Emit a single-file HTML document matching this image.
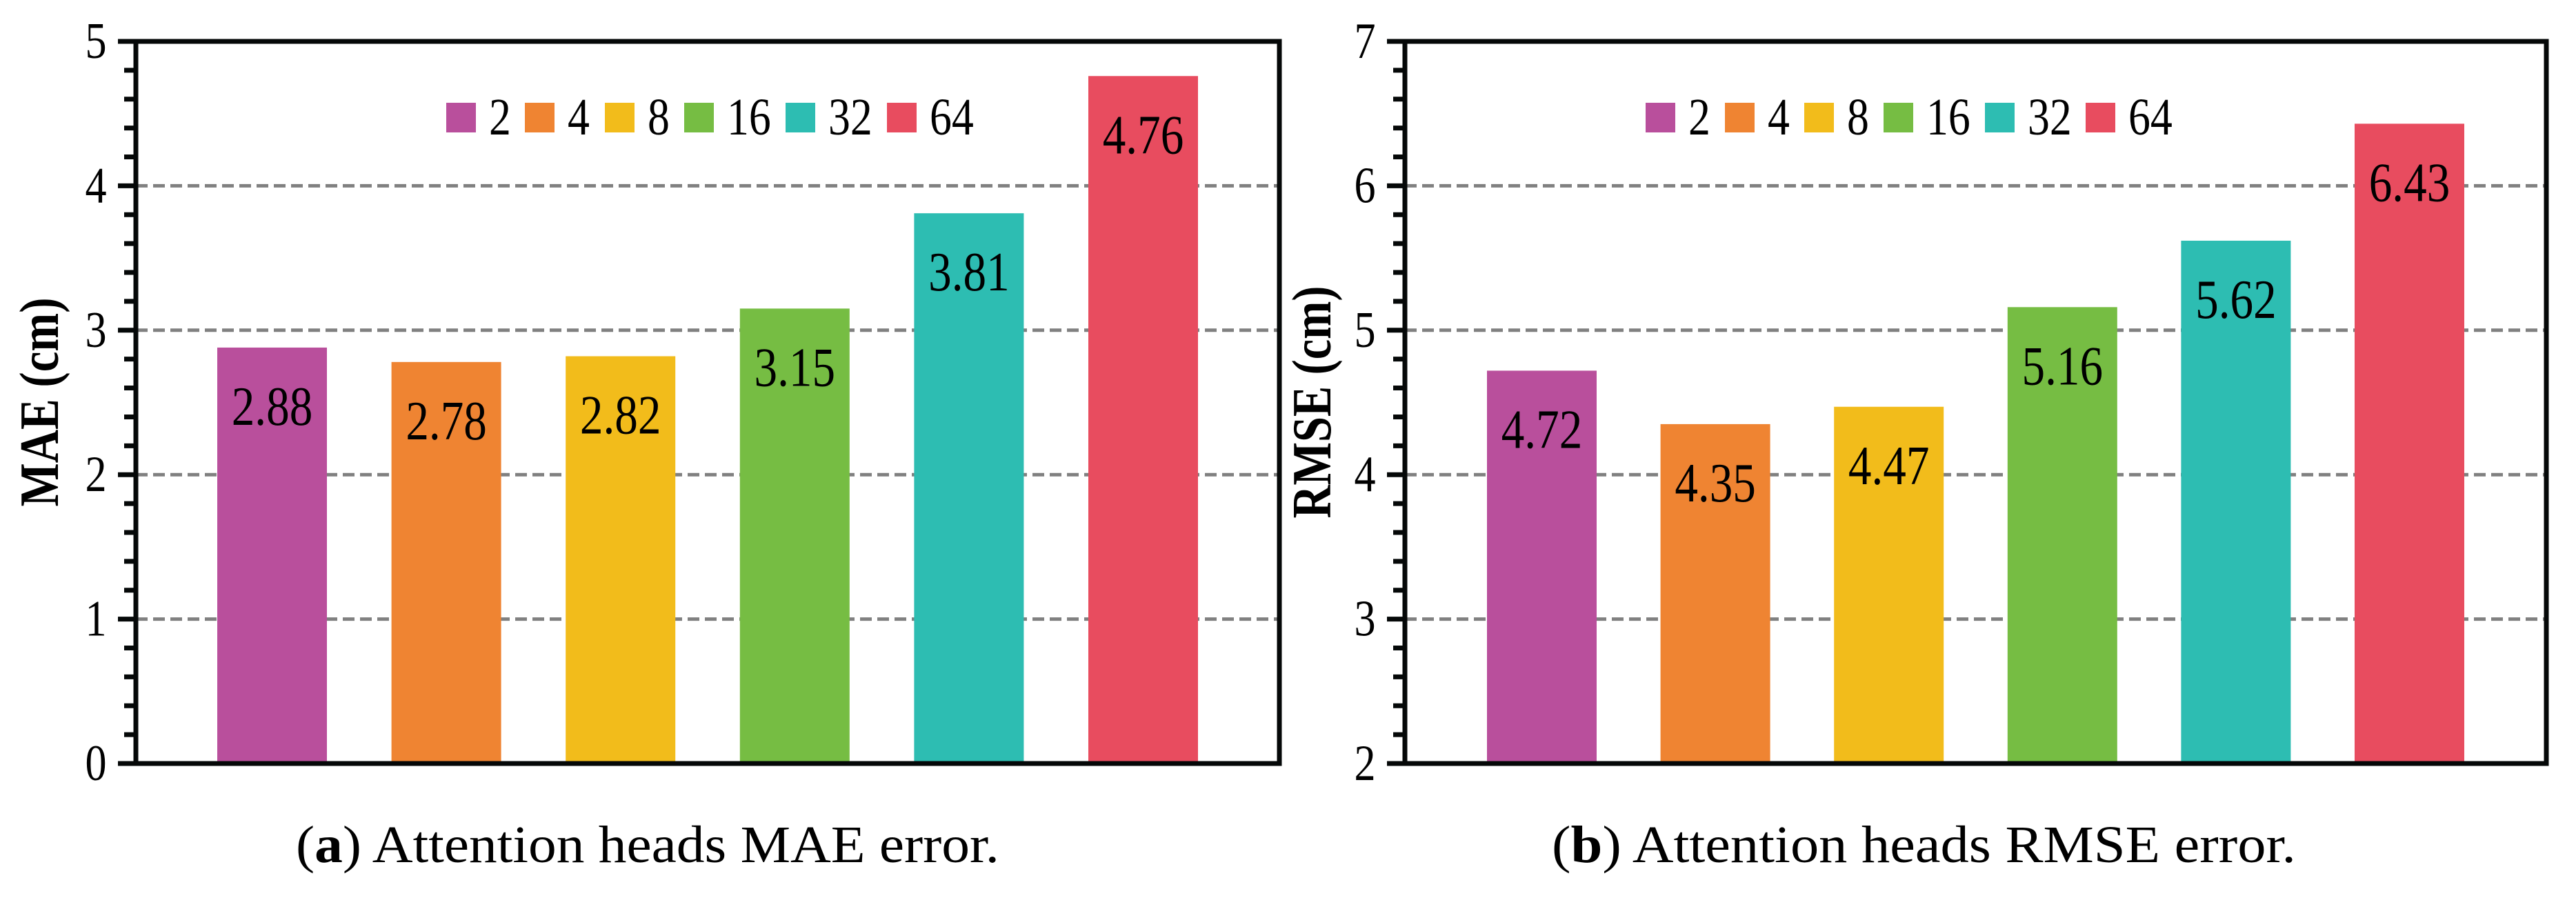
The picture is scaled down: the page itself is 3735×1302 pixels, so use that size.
<!DOCTYPE html>
<html><head><meta charset="utf-8"><style>
html,body{margin:0;padding:0;background:#fff}
svg{display:block}
text{font-family:"Liberation Serif",serif;fill:#000}
</style></head><body>
<svg id="fig" width="3735" height="1302" viewBox="0 0 3735 1302"></svg>
<script>
const categories = ["2","4","8","16","32","64"];
const maeValues = [2.88,2.78,2.82,3.15,3.81,4.76];
const rmseValues = [4.72,4.35,4.47,5.16,5.62,6.43];
const maeTicks = [0,1,2,3,4,5];
const rmseTicks = [2,3,4,5,6,7];
const colors = ["#b94f9c","#ef8432","#f2bc1b","#76bd43","#2dbdb2","#e84c5f"];

const NS = "http://www.w3.org/2000/svg";
const svg = document.getElementById('fig');
function mk(tag, attrs, parent){
  const e = document.createElementNS(NS, tag);
  for (const k in attrs) e.setAttribute(k, attrs[k]);
  (parent||svg).appendChild(e);
  return e;
}
const SX = 0.84;

function drawChart(cfg){
  const g = mk('g', {});
  
  
  const L = cfg.left, R = cfg.right, T = 60, B = 1107;
  const ymin = cfg.ticks[0], ymax = cfg.ticks[cfg.ticks.length-1];
  const y = v => B - (v - ymin) / (ymax - ymin) * (B - T);
  const mid = (L + R) / 2, step = cfg.step, bw = 159;
  const x = i => mid + (i - (categories.length - 1) / 2) * step;

  cfg.ticks.forEach((t, k) => {
    if (k === 0 || k === cfg.ticks.length - 1) return;
    const ln = mk('line', {x1: L, x2: R, y1: y(t), y2: y(t), stroke: '#808080', 'stroke-width': 5, 'stroke-dasharray': '17 8'}, g);
    
    
  });
  cfg.values.forEach((v, i) => {
    const r = mk('rect', {x: x(i) - bw/2, y: y(v), width: bw, height: B - y(v), fill: colors[i]}, g);
    
    
    const t = mk('text', {x: 0, y: 0, 'font-size': 80, 'text-anchor': 'middle', transform: `translate(${x(i)},${y(v) + 112}) scale(${SX},1)`}, g);
    t.textContent = v.toFixed(2);
    
    
  });
  const fr = mk('rect', {x: L, y: T, width: R - L, height: B - T, fill: 'none', stroke: '#050808', 'stroke-width': 7}, g);
  
  
  for (let v = ymin; v <= ymax + 1e-9; v += 0.2) {
    const vv = Math.round(v * 10) / 10;
    const major = Math.abs(vv - Math.round(vv)) < 1e-6;
    const tk = mk('line', {x1: major ? L - 26 : L - 17, x2: L, y1: y(vv), y2: y(vv), stroke: '#050808', 'stroke-width': 7}, g);
    
    
  }
  cfg.ticks.forEach(t => {
    const lb = mk('text', {x: 0, y: 0, 'font-size': 74, 'text-anchor': 'middle', transform: `translate(${L - 58},${y(t) + 24}) scale(${SX},1)`}, g);
    lb.textContent = String(t);
    
    
  });
  const yt = mk('text', {x: 0, y: 0, 'font-size': 80, 'font-weight': 'bold', 'text-anchor': 'middle', textLength: cfg.titleLen, lengthAdjust: 'spacingAndGlyphs', transform: `translate(${cfg.titleX},583) rotate(-90)`}, g);
  yt.textContent = cfg.title;
  
  
  const lg = mk('g', {}, g);
  
  
  categories.forEach((c, i) => {
    const sx = cfg.legendX[i];
    const sq = mk('rect', {x: sx, y: 149, width: 43, height: 43, fill: colors[i]}, lg);
    
    
    const lt = mk('text', {x: 0, y: 0, 'font-size': 76, transform: `translate(${sx + 62},195) scale(${SX},1)`}, lg);
    lt.textContent = c;
    
    
  });
  const cp = mk('text', {x: cfg.capX, y: 1250, 'font-size': 76, textLength: cfg.capLen, lengthAdjust: 'spacingAndGlyphs'}, g);
  const b1 = mk('tspan', {}, cp); b1.textContent = '(';
  const b2 = mk('tspan', {'font-weight': 'bold'}, cp); b2.textContent = cfg.letter;
  const b3 = mk('tspan', {}, cp); b3.textContent = ') ' + cfg.caption;
  
  
}

drawChart({name: 'mae-chart', left: 197, right: 1855, step: 252.6, values: maeValues, ticks: maeTicks,
  title: 'MAE (cm)', titleX: 84, titleLen: 303,
  legendX: [647, 761, 877, 992, 1139, 1286],
  capX: 429, capLen: 1020, letter: 'a', caption: 'Attention heads MAE error.'});
drawChart({name: 'rmse-chart', left: 2037, right: 3692, step: 251.6, values: rmseValues, ticks: rmseTicks,
  title: 'RMSE (cm)', titleX: 1929, titleLen: 337,
  legendX: [2386, 2501, 2616, 2731, 2878, 3024],
  capX: 2250, capLen: 1079, letter: 'b', caption: 'Attention heads RMSE error.'});
</script>
</body></html>
